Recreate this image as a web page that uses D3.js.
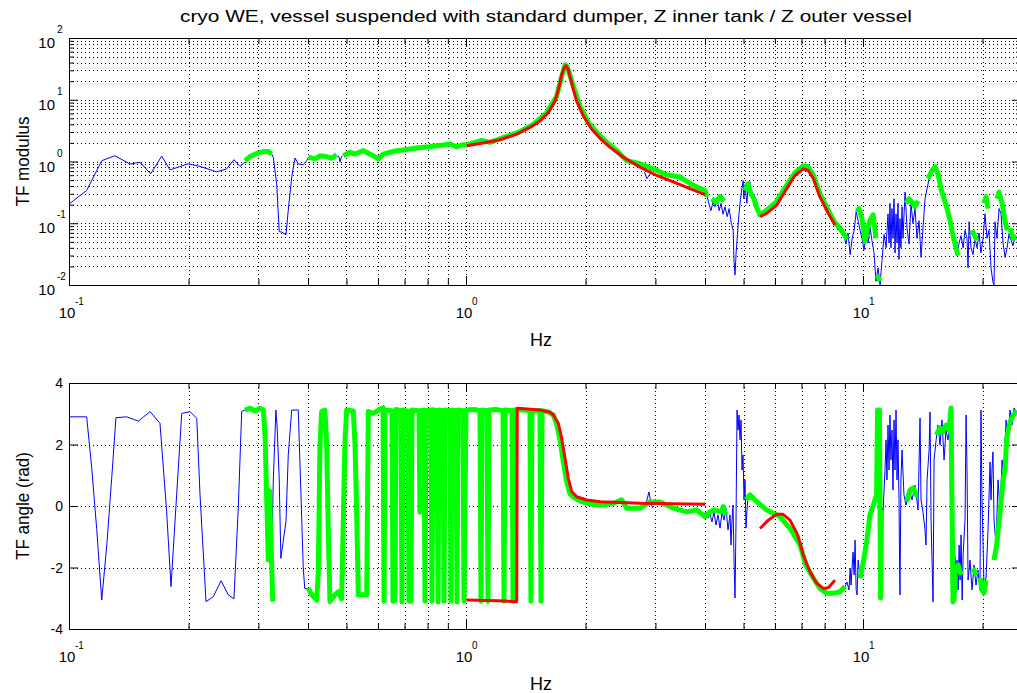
<!DOCTYPE html>
<html><head><meta charset="utf-8">
<script src="https://cdn.jsdelivr.net/npm/d3@7"></script>
<style>body{margin:0;background:#fff;}svg{display:block;font-family:"Liberation Sans",Arial,Helvetica,sans-serif;}</style>
</head><body>
<svg id="c" width="1017" height="693"></svg>
<script>
// ---------------- labels / ticks ----------------
const chartTitle = "cryo WE, vessel suspended with standard dumper, Z inner tank / Z outer vessel";
const xLabel = "Hz";
const yLabelTop = "TF modulus";
const yLabelBottom = "TF angle (rad)";
const xDomain = [0.1, 25];
const xDecades = [0.1, 1, 10];
const modDomain = [0.01, 100];
const modDecades = [0.01, 0.1, 1, 10, 100];
const angleDomain = [-4, 4];
const angleTicks = [-4, -2, 0, 2, 4];
const angleGrid = [-2, 0, 2];

// ---------------- data: [Hz, value], null = gap ----------------
// blue: raw transfer function modulus (visible parts)
const rawModulus = [
 [0.1006,0.21],[0.1108,0.34],[0.1209,1.03],[0.1306,1.24],[0.1424,0.91],[0.151,0.97],[0.1606,0.63],[0.1712,1.22],[0.1796,0.73],[0.1997,0.92],[0.2138,0.83],[0.2356,0.68],[0.2495,0.76],[0.2603,1.07],[0.2696,0.83],[0.2775,0.98],
 null,
 [0.324,1.32],[0.327,1.17],[0.3335,0.436],[0.3385,0.073],[0.3433,0.072],[0.352,0.065],[0.3567,0.163],[0.3639,0.56],[0.371,1.14],[0.378,0.91],[0.389,0.89],[0.397,1.03],[0.4008,1.17],
 null,
 [0.4768,1.24],[0.4797,1.14],[0.4815,0.98],[0.4844,1.14],[0.4878,1.24],
 null,
 [2.817,0.67],[2.855,0.526],[2.908,0.63],[2.936,0.81],
 null,
 [4.00,0.29],[4.05,0.27],[4.09,0.21],[4.14,0.16],[4.19,0.22],[4.24,0.185],[4.29,0.25],[4.34,0.16],[4.39,0.21],[4.44,0.14],[4.49,0.185],[4.55,0.128],[4.60,0.173],[4.66,0.099],[4.71,0.077],[4.73,0.026],[4.76,0.0145],[4.79,0.033],[4.82,0.057],[4.87,0.142],[4.93,0.30],[4.99,0.49],[5.01,0.25],[5.04,0.42],[5.10,0.21],[5.13,0.363],[5.19,0.47],[5.25,0.25],[5.31,0.30],[5.37,0.173],[5.44,0.142],[5.50,0.128],
 null,
 [8.55,0.088],[8.75,0.077],[8.96,0.061],[9.06,0.046],[9.17,0.069],[9.28,0.031],[9.39,0.057],[9.50,0.077],[9.61,0.154],[9.72,0.11],[9.83,0.077],[9.94,0.057],[10.06,0.037],[10.18,0.066],[10.30,0.048],[10.41,0.088],[10.53,0.053],[10.66,0.033],[10.78,0.0115],[10.91,0.019],[11.04,0.010],[11.17,0.026],[11.30,0.066],[11.43,0.040],[11.56,0.142],[11.63,0.048],[11.69,0.21],[11.76,0.040],[11.83,0.173],[11.90,0.057],[11.97,0.25],[12.04,0.033],[12.11,0.142],[12.18,0.048],[12.25,0.21],[12.32,0.026],[12.39,0.119],[12.46,0.040],[12.54,0.185],[12.61,0.057],[12.76,0.32],[12.91,0.083],[13.06,0.046],[13.21,0.21],[13.36,0.099],[13.52,0.173],[13.68,0.057],[13.84,0.11],[14.00,0.028],[14.16,0.083],[14.33,0.25],[14.50,0.363],[14.67,0.526],[14.84,0.61],[15.01,0.71],[15.19,0.82],[15.36,0.63],[15.63,0.44],[16.09,0.21],[16.57,0.099],[17.05,0.040],[17.25,0.030],[17.46,0.048],[17.66,0.063],[17.87,0.040],[18.07,0.077],[18.28,0.057],[18.39,0.019],[18.50,0.106],[18.71,0.040],[18.93,0.031],[19.15,0.057],[19.37,0.040],[19.60,0.069],[19.82,0.033],[20.06,0.057],[20.29,0.142],[20.53,0.057],[20.76,0.077],[21.01,0.019],[21.25,0.011],[21.38,0.010],[21.50,0.106],[21.75,0.057],[22.01,0.173],[22.27,0.142],[22.53,0.048],[22.79,0.028],[23.06,0.040],[23.33,0.069],[23.60,0.053],[23.87,0.043],[24.15,0.061],[24.4,0.057]
];
// green: modulus where coherence is good
const cohModulus = [
 [0.2775,1.03],[0.2858,1.2],[0.2971,1.35],[0.3087,1.45],[0.3177,1.45],[0.324,1.32],
 null,
 [0.4008,1.17],[0.4165,1.10],[0.4287,1.24],[0.4457,1.20],[0.4588,1.13],[0.4724,1.29],
 null,
 [0.4908,1.24],[0.5103,1.41],[0.5254,1.32],[0.5512,1.50],[0.5675,1.36],[0.5843,1.24],[0.6014,1.10],[0.6191,1.32],[0.6434,1.41],[0.6689,1.50],[0.6953,1.53],[0.7227,1.59],[0.7512,1.65],[0.7806,1.70],[0.8114,1.73],[0.8436,1.80],[0.8766,1.85],[0.9113,1.92],[0.9475,1.73],[0.9845,1.87],[1.004,1.85],
 [1.095,2.2],[1.149,2.04],[1.266,2.55],[1.354,2.95],[1.477,4.0],[1.597,6.19],[1.692,11.4],[1.742,23.9],[1.776,36.9],[1.80,34],[1.864,16.5],[1.937,7.9],[2.032,4.28],[2.134,2.95],[2.262,2.04],[2.397,1.50],[2.54,1.03],[2.744,0.92],[2.964,0.76],[3.203,0.61],[3.459,0.56],[3.737,0.41],[4.0,0.34],[4.04,0.27],
 null,
 [4.16,0.25],[4.26,0.22],[4.36,0.27],[4.47,0.23],
 null,
 [5.04,0.336],[5.13,0.44],[5.22,0.30],[5.31,0.25],[5.41,0.173],[5.50,0.137],[5.70,0.16],[6.04,0.22],[6.40,0.40],[6.74,0.66],[7.07,0.85],[7.27,0.82],[7.50,0.59],[7.79,0.30],[8.18,0.16],[8.50,0.102],[8.75,0.083],[8.96,0.066],[9.12,0.055],
 null,
 [9.66,0.154],[9.77,0.173],[9.94,0.119],[10.06,0.069],[10.12,0.051],[10.24,0.077],[10.41,0.11],[10.60,0.137],[10.72,0.077],[10.78,0.057],
 null,
 [10.85,0.0145],[11.04,0.0115],
 null,
 [12.83,0.21],[13.06,0.25],[13.29,0.22],[13.52,0.185],[13.76,0.23],
 null,
 [14.58,0.526],[14.92,0.71],[15.19,0.82],[15.45,0.63],[15.72,0.363],[16.0,0.25],[16.28,0.173],[16.57,0.11],[16.85,0.063],[17.15,0.040],[17.36,0.030],
 null,
 [18.82,0.077],[19.15,0.061],[19.37,0.053],
 null,
 [20.17,0.21],[20.41,0.27],[20.65,0.173],
 null,
 [21.75,0.25],[22.01,0.32],[22.40,0.21],[22.79,0.11],[23.06,0.077],
 null,
 [23.46,0.083],[23.87,0.057],[24.4,0.061]
];
// red: fitted model modulus
const fitModulus1 = [[1.004,1.80],[1.105,1.99],[1.218,2.25],[1.342,2.77],[1.449,3.56],[1.536,4.54],[1.612,6.19],[1.676,9.5],[1.708,14.6],[1.725,18.8],[1.742,25.5],[1.766,32.7],[1.786,35.6],[1.810,30.6],[1.828,23.9],[1.846,18.8],[1.864,14.6],[1.900,9.5],[1.975,5.46],[2.073,3.33],[2.176,2.37],[2.306,1.70],[2.490,1.17],[2.744,0.81],[3.023,0.594],[3.328,0.466],[3.666,0.363],[4.0,0.291]];
const fitModulus2 = [[5.503,0.128],[5.72,0.144],[6.06,0.196],[6.42,0.363],[6.74,0.594],[7.07,0.761],[7.28,0.714],[7.50,0.526],[7.79,0.267],[8.18,0.144],[8.50,0.0935]];

// blue: raw phase (visible parts)
const rawAngle = [
 [0.1006,2.90],[0.1108,2.90],[0.1141,1.23],[0.1174,-0.73],[0.1209,-3.06],[0.1245,-1.27],[0.1281,0.90],[0.1313,2.87],[0.1397,2.90],[0.1495,2.76],[0.160,3.07],[0.1695,2.69],[0.1762,-0.19],[0.1807,-2.62],[0.1867,0.36],[0.1923,3.01],[0.2018,3.07],[0.2098,2.85],[0.2138,0.36],[0.2214,-3.11],[0.2309,-2.95],[0.2415,-2.43],[0.2519,-2.89],[0.2603,-3.02],[0.2669,-0.07],[0.2723,3.07],[0.2803,3.15],
 null,
 [0.3240,-1.5],[0.327,0.79],[0.332,3.12],[0.3345,2.54],[0.3384,0.90],[0.3417,-1.70],[0.3463,-1.16],[0.352,-0.51],[0.3567,1.66],[0.3639,3.12],[0.378,3.12],[0.3856,-0.40],[0.389,-1.97],[0.3924,-2.68],[0.4005,-2.70],
 null,
 [2.808,-0.07],[2.857,0.2],[2.89,0.46],[2.924,0.07],[2.958,-0.07],
 null,
 [4.00,-0.20],[4.07,-0.39],[4.117,-0.26],[4.165,-0.52],[4.214,-0.20],[4.263,-0.62],[4.313,-0.29],[4.364,-0.72],[4.415,-0.20],[4.466,-0.46],[4.518,-0.07],[4.571,-0.78],[4.624,-0.29],[4.651,-1.27],[4.678,-0.46],[4.705,0.03],[4.733,-1.76],[4.760,-2.99],[4.788,-0.46],[4.816,3.12],[4.844,2.47],[4.872,2.96],[4.900,2.15],[4.928,2.80],[4.957,1.17],[4.986,1.66],[5.015,0.20],[5.044,0.85],[5.073,-0.72],[5.103,-0.13],[5.133,0.36],[5.193,0.20],
 null,
 [9.01,-2.63],[9.11,-2.47],[9.22,-2.73],[9.28,-2.02],[9.33,-2.57],[9.44,-1.50],[9.50,-2.24],[9.55,-1.11],[9.61,-2.73],[9.66,-2.89],[9.72,-1.76],[9.83,-2.34],[10.0,-1.82],[10.18,-1.17],[10.30,-0.78],[10.41,-0.29],[10.53,0.03],[10.66,0.26],[10.78,0.36],[10.91,0.20],[11.04,-0.46],[11.17,-0.07],[11.23,-0.20],[11.36,1.17],[11.43,2.15],[11.49,0.85],[11.56,2.63],[11.63,1.17],[11.69,2.96],[11.76,1.50],[11.83,2.47],[11.90,0.52],[11.97,2.80],[12.04,1.17],[12.11,3.12],[12.18,0.85],[12.25,2.15],[12.32,0.20],[12.39,-2.89],[12.46,0.85],[12.54,1.82],[12.68,0.36],[12.83,0.03],[13.06,0.52],[13.29,0.20],[13.52,0.68],[13.76,-0.13],[13.92,2.86],[14.00,0.20],[14.16,-0.20],[14.33,-0.78],[14.41,-1.27],[14.50,0.85],[14.67,1.82],[14.75,3.06],[14.84,-0.46],[15.01,-3.12],[15.10,1.50],[15.28,2.15],[15.45,2.63],[15.63,1.98],[15.81,2.80],[16.0,1.50],[16.18,2.47],[16.37,2.15],[16.57,2.63],[16.76,-1.76],[16.95,-1.11],[17.15,-2.24],[17.25,-1.76],[17.36,-2.73],[17.46,-1.27],[17.56,-2.41],[17.66,-0.94],[17.77,-3.06],[17.87,-1.59],[18.07,-0.46],[18.18,2.96],[18.28,1.17],[18.39,-2.41],[18.60,-1.76],[18.82,-2.73],[19.04,-1.92],[19.26,-2.57],[19.48,-2.08],[19.71,-2.73],[19.82,3.12],[19.94,0.20],[20.17,-2.57],[20.41,-2.34],[20.65,-0.78],[20.89,1.43],[21.01,0.20],[21.13,1.17],[21.25,1.76],[21.38,-0.46],[21.63,-1.27],[21.88,0.85],[22.14,-0.20],[22.40,1.50],[22.66,0.91],[22.92,2.80],[23.19,2.15],[23.46,3.12],[23.73,2.63],[24.01,3.19],[24.4,3.06]
];
// green: phase where coherence is good
const cohAngle = [
 [0.2775,3.12],[0.2858,3.18],[0.2944,3.09],[0.3027,3.18],[0.3087,3.12],[0.3117,2.31],[0.3177,-1.76],[0.3200,0.5],[0.3260,-3.11],
 null,
 [0.4005,-2.67],[0.4087,-2.89],[0.4207,-3.06],[0.4246,-2.15],[0.4287,1.98],[0.4330,3.07],[0.4413,3.12],[0.4457,1.98],[0.4498,-0.72],[0.4543,-3.11],[0.4677,-2.89],[0.4768,-2.79],[0.4862,-3.02],[0.4956,2.09],[0.5005,3.12],[0.5200,3.09],[0.5254,1.98],[0.5304,-0.19],[0.5354,-2.89],[0.5622,-2.89],[0.5675,3.07],[0.5843,3.01],[0.6014,3.12],[0.6180,3.2],
 [0.6217,-3.1],[0.6252,3.12],[0.6509,3.1],[0.6547,-3.1],[0.6624,-3.08],[0.6662,3.14],[0.6858,3.1],[0.6898,-3.12],[0.6937,3.12],[0.7141,3.08],[0.7183,-3.1],[0.7267,-3.1],[0.7311,3.12],[0.7613,3.1],[0.7657,-0.2],[0.7702,3.1],[0.7838,3.12],[0.7883,-3.1],[0.7929,3.1],[0.8161,3.12],[0.8209,-3.1],[0.8257,3.13],[0.8453,3.1],[0.8502,-3.12],[0.8551,3.12],[0.8752,3.1],[0.8803,-3.1],[0.8855,3.12],[0.9113,3.1],[0.9166,-3.1],[0.9220,3.12],[0.9436,3.1],[0.9491,-3.12],[0.9545,3.12],[0.9826,3.1],[0.9885,-3.1],[1.0,3.12],[1.05,3.14],[1.0845,3.1],[1.0908,-3.1],[1.097,3.12],[1.1295,3.1],[1.1360,-3.1],[1.1429,3.12],[1.19,3.14],[1.2395,3.1],[1.2467,-3.1],[1.254,3.12],[1.3058,3.1],[1.3134,-3.1],[1.321,3.12],[1.40,3.12],[1.449,3.1],[1.4574,-3.1],[1.4661,3.1],[1.536,3.1],[1.5449,-3.1],[1.554,3.1],[1.609,3.06],[1.659,2.96],[1.695,2.63],[1.725,2.15],[1.755,1.5],[1.794,0.78],[1.828,0.39],[1.864,0.29],[1.937,0.16],[2.014,0.09],[2.176,0.03],[2.35,0.09],[2.467,0.2],[2.54,-0.07],[2.744,-0.07],[2.908,0.13],[3.082,0.13],[3.328,-0.07],[3.596,-0.19],[3.812,-0.13],[4.0,-0.35],[4.117,-0.19],[4.21,-0.13],[4.402,-0.19],[4.444,-0.02],[4.518,-0.29],
 null,
 [5.073,0.2],[5.193,0.36],[5.398,0.14],[5.72,-0.13],[6.06,-0.29],[6.18,-0.35],[6.549,-0.73],[6.94,-1.27],[7.173,-1.92],[7.50,-2.35],[7.79,-2.68],[8.094,-2.84],[8.414,-2.84],[8.75,-2.79],[9.01,-2.62],
 null,
 [9.83,-2.35],[10.02,-1.81],[10.22,-1.16],[10.41,-0.29],[10.62,0.03],[10.82,0.36],[10.88,3.12],[11.00,3.12],[11.07,-2.99],[11.13,-0.13],
 null,
 [12.88,0.14],[13.13,0.52],[13.39,0.59],[13.60,0.36],[13.78,0.36],
 null,
 [15.30,2.31],[15.63,2.54],[15.90,2.41],[16.18,2.63],[16.47,2.47],[16.66,3.19],[16.85,-3.12],[16.95,-3.06],[17.1,-2.08],[17.36,-1.92],[17.66,-2.24],
 null,
 [18.93,-2.02],[19.15,-2.15],[19.37,-2.24],
 null,
 [19.71,-2.34],[19.94,-2.73],[20.17,-2.83],[20.41,-2.41],
 null,
 [21.38,-1.76],[21.71,-1.27],[22.14,-0.2],[22.57,0.91],[22.79,1.17],[23.01,2.21],[23.46,2.73],[23.92,2.96],[24.4,3.09]
];
// red: fitted model phase
const fitAngle1 = [[1.004,-3.06],[1.2,-3.08],[1.342,-3.11],[1.346,3.18],[1.45,3.15],[1.536,3.12],[1.628,3.05],[1.659,2.96],[1.708,2.69],[1.742,2.20],[1.776,1.55],[1.810,0.90],[1.846,0.47],[1.90,0.30],[2.014,0.195],[2.176,0.14],[2.744,0.088],[4.0,0.055]];
const fitAngle2 = [[5.503,-0.73],[5.776,-0.46],[6.06,-0.27],[6.289,-0.27],[6.549,-0.46],[6.846,-0.94],[7.07,-1.59],[7.354,-2.14],[7.643,-2.51],[7.94,-2.68],[8.18,-2.66],[8.50,-2.41]];

// ---------------- drawing ----------------
const svg = d3.select("#c");
const L = 69, R = 1021;
const P1 = {top: 38, bottom: 285};
const P2 = {top: 383, bottom: 629};
const x = d3.scaleLog().domain(xDomain).range([L, R]);
const yMod = d3.scaleLog().domain(modDomain).range([P1.bottom, P1.top]);
const yAng = d3.scaleLinear().domain(angleDomain).range([P2.bottom, P2.top]);
const xMinor = x.ticks();

const COLORS = {raw: "#0000ff", coh: "#00ff00", fit: "#ff0000"};

function panel(id, P, y, yGrid, series, yTicksMajor, yTicksMinor, yLabelFn, ylabel, ylabelLen) {
  const g = svg.append("g");
  g.append("clipPath").attr("id", id).append("rect")
    .attr("x", L).attr("y", P.top).attr("width", R - L).attr("height", P.bottom - P.top);
  // grid
  const grid = g.append("g").attr("stroke", "#000").attr("stroke-width", 1).attr("stroke-dasharray", "1,3");
  xMinor.forEach(v => {
    const px = Math.round(x(v)) + 0.5;
    grid.append("line").attr("x1", px).attr("x2", px).attr("y1", P.top).attr("y2", P.bottom);
  });
  yGrid.forEach(v => {
    const py = Math.round(y(v)) + 0.5;
    grid.append("line").attr("x1", L).attr("x2", R).attr("y1", py).attr("y2", py);
  });
  // data
  const dg = g.append("g").attr("clip-path", `url(#${id})`);
  const line = d3.line().defined(d => d !== null).x(d => x(d[0])).y(d => y(d[1]));
  series.forEach(s => {
    dg.append("path").datum(s.data).attr("d", line).attr("fill", "none")
      .attr("stroke", s.color).attr("stroke-width", s.width)
      .attr("stroke-linejoin", "round").attr("stroke-linecap", "butt");
  });
  // axes (ticks inward)
  g.append("g").attr("transform", `translate(0,${P.bottom})`)
    .call(d3.axisBottom(x).tickValues(xMinor).tickSize(-6).tickFormat("").tickSizeOuter(0));
  g.append("g").attr("transform", `translate(0,${P.top})`)
    .call(d3.axisTop(x).tickValues(xMinor).tickSize(-6).tickFormat("").tickSizeOuter(0));
  g.append("g").attr("transform", `translate(0,${P.bottom})`)
    .call(d3.axisBottom(x).tickValues(xDecades).tickSize(-9).tickFormat("").tickSizeOuter(0));
  g.append("g").attr("transform", `translate(0,${P.top})`)
    .call(d3.axisTop(x).tickValues(xDecades).tickSize(-9).tickFormat("").tickSizeOuter(0));
  if (yTicksMinor) {
    g.append("g").attr("transform", `translate(${L},0)`)
      .call(d3.axisLeft(y).tickValues(yTicksMinor).tickSize(-5).tickFormat("").tickSizeOuter(0));
    g.append("g").attr("transform", `translate(${R},0)`)
      .call(d3.axisRight(y).tickValues(yTicksMinor).tickSize(-5).tickFormat("").tickSizeOuter(0));
  }
  g.append("g").attr("transform", `translate(${L},0)`)
    .call(d3.axisLeft(y).tickValues(yTicksMajor).tickSize(-9).tickFormat("").tickSizeOuter(0));
  g.append("g").attr("transform", `translate(${R},0)`)
    .call(d3.axisRight(y).tickValues(yTicksMajor).tickSize(-9).tickFormat("").tickSizeOuter(0));
  g.selectAll(".domain").remove();
  g.selectAll(".tick line").attr("stroke", "#000");
  g.append("rect").attr("x", L + 0.5).attr("y", P.top + 0.5).attr("width", R - L).attr("height", P.bottom - P.top)
    .attr("fill", "none").attr("stroke", "#000").attr("stroke-width", 1);
  // x tick labels 10^n
  xDecades.forEach(v => {
    const px = x(v), e = Math.round(Math.log10(v));
    g.append("text").attr("x", px - 2).attr("y", P.bottom + 33).attr("text-anchor", "middle")
      .attr("font-size", 15).text("10");
    g.append("text").attr("x", px + 6).attr("y", P.bottom + 20).attr("font-size", 10).text(String(e));
  });
  yLabelFn(g);
  // axis labels
  g.append("text").attr("x", 541).attr("y", P.bottom + 61).attr("text-anchor", "middle")
    .attr("font-size", 18).text(xLabel);
  g.append("text").attr("transform", `translate(29,${(P.top + P.bottom) / 2}) rotate(-90)`)
    .attr("text-anchor", "middle").attr("font-size", 18)
    .attr("textLength", ylabelLen).attr("lengthAdjust", "spacingAndGlyphs").text(ylabel);
}

const modMinor = yMod.ticks().filter(v => !modDecades.includes(v));
panel("clipTop", P1, yMod, yMod.ticks(), [
  {data: rawModulus, color: COLORS.raw, width: 1},
  {data: cohModulus, color: COLORS.coh, width: 5},
  {data: fitModulus1, color: COLORS.fit, width: 3},
  {data: fitModulus2, color: COLORS.fit, width: 3}
], modDecades, modMinor, g => {
  modDecades.forEach(v => {
    const py = yMod(v), e = Math.round(Math.log10(v));
    g.append("text").attr("x", 55).attr("y", py + 10).attr("text-anchor", "end").attr("font-size", 15).text("10");
    g.append("text").attr("x", 57).attr("y", py - 5).attr("font-size", 10).text(String(e));
  });
}, yLabelTop, 90);

panel("clipBot", P2, yAng, angleGrid, [
  {data: rawAngle, color: COLORS.raw, width: 1},
  {data: cohAngle, color: COLORS.coh, width: 5},
  {data: fitAngle1, color: COLORS.fit, width: 3},
  {data: fitAngle2, color: COLORS.fit, width: 3}
], angleTicks, null, g => {
  angleTicks.forEach(v => {
    g.append("text").attr("x", 63).attr("y", yAng(v) + 5).attr("text-anchor", "end").attr("font-size", 14).text(String(v));
  });
}, yLabelBottom, 108);

svg.append("text").attr("x", 546).attr("y", 22).attr("text-anchor", "middle")
  .attr("font-size", 17).attr("textLength", 732).attr("lengthAdjust", "spacingAndGlyphs").text(chartTitle);
</script>
</body></html>
